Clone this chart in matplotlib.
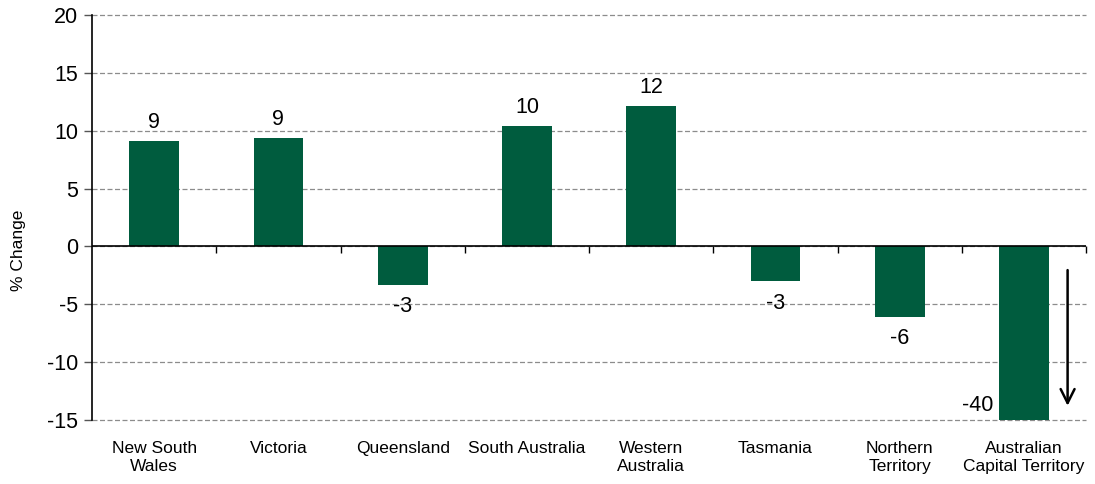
import matplotlib
matplotlib.use("Agg")
import matplotlib.pyplot as plt
import numpy as np

plt.rcParams['font.family'] = ['Liberation Sans', 'DejaVu Sans']

categories = ["New South\nWales", "Victoria", "Queensland", "South Australia",
              "Western\nAustralia", "Tasmania", "Northern\nTerritory",
              "Australian\nCapital Territory"]
values = [9.1, 9.4, -3.3, 10.4, 12.1, -3.0, -6.05, -40.0]
labels = ["9", "9", "-3", "10", "12", "-3", "-6", "-40"]
yticks = [-15, -10, -5, 0, 5, 10, 15, 20]

bar_color = "#005C3E"

fig = plt.figure(figsize=(10.95, 4.84), dpi=100)
ax = fig.add_axes([0.084, 0.132, 0.908, 0.837])

x = np.arange(len(categories))
ax.bar(x, values, width=0.4, color=bar_color, zorder=3)

ax.set_ylim(-15, 20)
ax.set_xlim(-0.5, len(categories) - 0.5)
ax.set_yticks(yticks)
ax.set_yticklabels([str(t) for t in yticks], fontsize=15.5)
ax.yaxis.grid(True, linestyle=(0, (4, 2)), color="#8c8c8c", linewidth=0.9, zorder=0)
for gl in ax.get_ygridlines():
    gl.set_clip_on(False)
ax.tick_params(axis='y', length=6, width=1, color="#555555", pad=4)

ax.set_xticks(x)
ax.set_xticklabels(categories, fontsize=12.5, linespacing=1.25)
ax.tick_params(axis='x', length=0, pad=15)

for s in ['top', 'right', 'bottom']:
    ax.spines[s].set_visible(False)
ax.spines['left'].set_linewidth(1.2)

ax.set_ylabel("% Change", fontsize=12.5)
ax.yaxis.set_label_coords(-0.066, 0.42)

# zero line with boundary ticks
ax.axhline(0, color="black", linewidth=1.2, zorder=4)
sec = ax.secondary_xaxis(0, transform=ax.transData)
sec.set_xticks(x + 0.5)
sec.set_xticklabels([""] * len(x))
sec.tick_params(axis='x', direction='out', length=5, width=1)
sec.spines['bottom'].set_visible(False)

ylo, yhi = ax.get_ylim()
for xi, v, lab in zip(x, values, labels):
    if v < ylo:
        ax.text(xi - 0.25, ylo + 1.3, lab, ha='right', va='center', fontsize=15.5, zorder=5)
        ax.annotate("", xy=(xi + 0.35, ylo + 1.0), xytext=(xi + 0.35, -1.8),
                    arrowprops=dict(arrowstyle="->", color="black", lw=1.8,
                                    mutation_scale=25), zorder=5)
    elif v >= 0:
        ax.text(xi, v + 0.7, lab, ha='center', va='bottom', fontsize=15.5, zorder=5)
    else:
        ax.text(xi, v - 1.0, lab, ha='center', va='top', fontsize=15.5, zorder=5)

fig.savefig("out.png", dpi=100)
